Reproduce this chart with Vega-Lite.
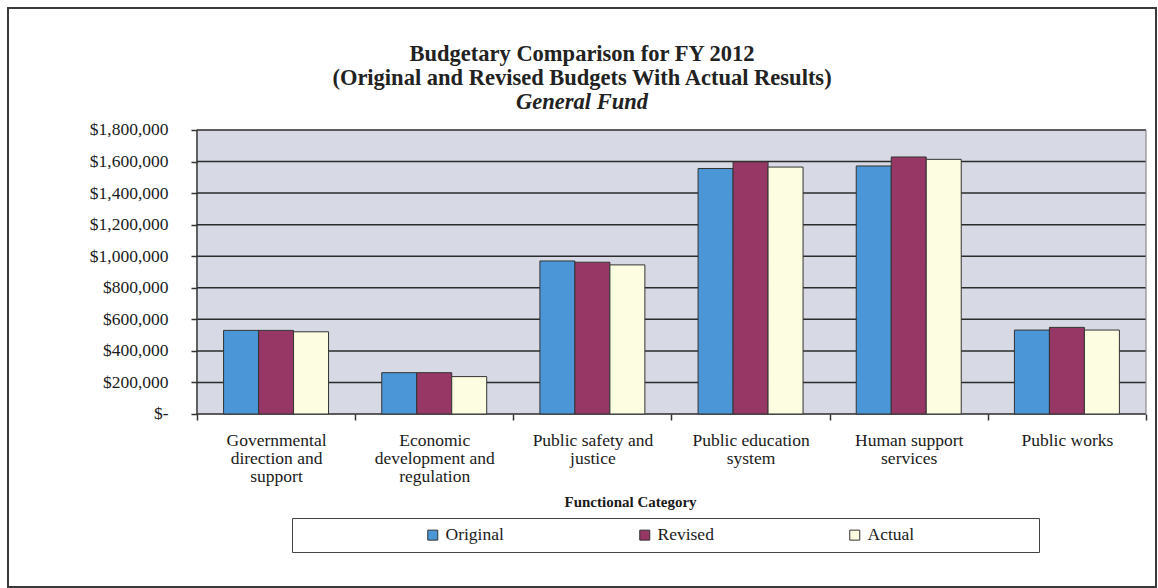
{
  "$schema": "https://vega.github.io/schema/vega-lite/v6.json",
  "width": 1148,
  "height": 579,
  "autosize": "none",
  "padding": {"left": 8, "top": 8, "right": 2, "bottom": 1},
  "background": "white",
  "config": {
    "view": {"stroke": "#3a3a3a", "strokeWidth": 2, "fill": "white"},
    "font": "Liberation Serif",
    "axis": {"labelFont": "Liberation Serif", "titleFont": "Liberation Serif"},
    "legend": {"labelFont": "Liberation Serif", "titleFont": "Liberation Serif"}
  },
  "title": {
    "text": ["Budgetary Comparison for FY 2012", "(Original and Revised Budgets With Actual Results)"],
    "subtitle": "General Fund",
    "anchor": "middle",
    "frame": "group",
    "font": "Liberation Serif",
    "fontSize": 22.5,
    "fontWeight": "bold",
    "color": "#222222",
    "lineHeight": 24,
    "subtitleFont": "Liberation Serif",
    "subtitleFontSize": 22.5,
    "subtitleFontStyle": "italic",
    "subtitleFontWeight": "bold",
    "subtitleColor": "#222222",
    "subtitlePadding": 1,
    "offset": -105
  },
  "datasets": {
    "budget": [
      {"category": "Governmental direction and support", "series": "Original", "value": 530000},
      {"category": "Governmental direction and support", "series": "Revised", "value": 530000},
      {"category": "Governmental direction and support", "series": "Actual", "value": 521000},
      {"category": "Economic development and regulation", "series": "Original", "value": 262000},
      {"category": "Economic development and regulation", "series": "Revised", "value": 262000},
      {"category": "Economic development and regulation", "series": "Actual", "value": 237000},
      {"category": "Public safety and justice", "series": "Original", "value": 970000},
      {"category": "Public safety and justice", "series": "Revised", "value": 962000},
      {"category": "Public safety and justice", "series": "Actual", "value": 945000},
      {"category": "Public education system", "series": "Original", "value": 1556000},
      {"category": "Public education system", "series": "Revised", "value": 1598000},
      {"category": "Public education system", "series": "Actual", "value": 1565000},
      {"category": "Human support services", "series": "Original", "value": 1572000},
      {"category": "Human support services", "series": "Revised", "value": 1629000},
      {"category": "Human support services", "series": "Actual", "value": 1614000},
      {"category": "Public works", "series": "Original", "value": 532000},
      {"category": "Public works", "series": "Revised", "value": 549000},
      {"category": "Public works", "series": "Actual", "value": 532000}
    ],
    "grid": [
      {"v": 0}, {"v": 200000}, {"v": 400000}, {"v": 600000}, {"v": 800000},
      {"v": 1000000}, {"v": 1200000}, {"v": 1400000}, {"v": 1600000}, {"v": 1800000}
    ],
    "plotarea": [{"part": "plot area"}]
  },
  "layer": [
    {
      "data": {"name": "budget"},
      "mark": {"type": "rect", "fill": "#d7dae4"},
      "encoding": {
        "x": {"field": "category", "type": "nominal", "sort": null, "title": "Functional Category",
              "scale": {"domain": ["Governmental direction and support", "Economic development and regulation", "Public safety and justice", "Public education system", "Human support services", "Public works"], "paddingInner": 0, "paddingOuter": 0.629, "align": 0.9497}},
        "y": {"datum": 0, "type": "quantitative", "title": null, "scale": {"domain": [-1096486, 2573232], "nice": false, "zero": false}},
        "y2": {"datum": 1800000}
      }
    },
    {
      "data": {"name": "grid"},
      "mark": {"type": "rule", "color": "#2b2b2b", "strokeWidth": 1.5},
      "encoding": {
        "x": {"datum": "Governmental direction and support", "type": "nominal", "bandPosition": 0, "title": "Functional Category",
              "scale": {"domain": ["Governmental direction and support", "Economic development and regulation", "Public safety and justice", "Public education system", "Human support services", "Public works"], "paddingInner": 0, "paddingOuter": 0.629, "align": 0.9497}},
        "x2": {"datum": "Public works", "bandPosition": 1},
        "y": {"field": "v", "type": "quantitative", "title": null, "scale": {"domain": [-1096486, 2573232], "nice": false, "zero": false}}
      }
    },
    {
      "data": {"name": "budget"},
      "mark": {"type": "bar", "stroke": "#333333", "strokeWidth": 1},
      "encoding": {
        "x": {"field": "category", "type": "nominal", "sort": null, "title": "Functional Category",
              "scale": {"domain": ["Governmental direction and support", "Economic development and regulation", "Public safety and justice", "Public education system", "Human support services", "Public works"], "paddingInner": 0, "paddingOuter": 0.629, "align": 0.9497},
              "axis": {
                "title": "Functional Category",
                "orient": "bottom",
                "offset": -173,
                "domain": false,
                "grid": false,
                "tickBand": "extent",
                "tickSize": 6,
                "tickColor": "#333333",
                "tickWidth": 1.5,
                "labelAngle": 0,
                "labelAlign": "center",
                "labelBaseline": "top",
                "labelPadding": 11,
                "labelFontSize": 17.5,
                "labelLineHeight": 18,
                "labelColor": "#1a1a1a",
                "labelOverlap": false,
                "labelBound": false,
                "labelExpr": "datum.label == 'Governmental direction and support' ? ['Governmental','direction and','support'] : datum.label == 'Economic development and regulation' ? ['Economic','development and','regulation'] : datum.label == 'Public safety and justice' ? ['Public safety and','justice'] : datum.label == 'Public education system' ? ['Public education','system'] : datum.label == 'Human support services' ? ['Human support','services'] : datum.label",
                "titleFontSize": 15,
                "titleFontWeight": "bold",
                "titleColor": "#1a1a1a",
                "titlePadding": 10,
                "titleX": 622,
                "zindex": 1
              }},
        "xOffset": {"field": "series", "type": "nominal", "sort": ["Original", "Revised", "Actual"], "scale": {"paddingInner": 0, "paddingOuter": 0.76}},
        "y": {"field": "value", "type": "quantitative", "title": null,
              "scale": {"domain": [-1096486, 2573232], "nice": false, "zero": false},
              "axis": {
                "title": null,
                "orient": "left",
                "offset": -189,
                "domain": false,
                "grid": false,
                "values": [0, 200000, 400000, 600000, 800000, 1000000, 1200000, 1400000, 1600000, 1800000],
                "tickSize": 6,
                "tickColor": "#333333",
                "tickWidth": 1.5,
                "labelPadding": 23,
                "labelFontSize": 17.5,
                "labelColor": "#1a1a1a",
                "labelExpr": "datum.value == 0 ? '$-' : '$' + format(datum.value, ',')",
                "zindex": 1
              }},
        "y2": {"datum": 0},
        "color": {"field": "series", "type": "nominal",
                  "scale": {"domain": ["Original", "Revised", "Actual"], "range": ["#4b96d6", "#973765", "#fdfde2"]},
                  "legend": {
                    "orient": "none",
                    "legendX": 284,
                    "legendY": 510,
                    "direction": "horizontal",
                    "columns": 3,
                    "title": " ",
                    "titleOrient": "right",
                    "titlePadding": 117,
                    "titleFontSize": 17,
                    "symbolType": "square",
                    "symbolSize": 100,
                    "symbolOffset": 124,
                    "symbolStrokeColor": "#333333",
                    "symbolStrokeWidth": 1,
                    "labelFontSize": 17.5,
                    "labelColor": "#1a1a1a",
                    "labelOffset": 4,
                    "columnPadding": 8,
                    "padding": 8,
                    "strokeColor": "#444444",
                    "fillColor": "white"
                  }}
      }
    },
    {
      "data": {"name": "plotarea"},
      "mark": {"type": "rule", "color": "#333333", "strokeWidth": 1.5},
      "encoding": {
        "x": {"datum": "Governmental direction and support", "type": "nominal", "bandPosition": 0, "title": "Functional Category",
              "scale": {"domain": ["Governmental direction and support", "Economic development and regulation", "Public safety and justice", "Public education system", "Human support services", "Public works"], "paddingInner": 0, "paddingOuter": 0.629, "align": 0.9497}},
        "y": {"datum": 0, "type": "quantitative", "title": null, "scale": {"domain": [-1096486, 2573232], "nice": false, "zero": false}},
        "y2": {"datum": 1800000}
      }
    },
    {
      "data": {"name": "plotarea"},
      "mark": {"type": "rule", "color": "#8a8a8a", "strokeWidth": 1.2},
      "encoding": {
        "x": {"datum": "Public works", "type": "nominal", "bandPosition": 1, "title": "Functional Category",
              "scale": {"domain": ["Governmental direction and support", "Economic development and regulation", "Public safety and justice", "Public education system", "Human support services", "Public works"], "paddingInner": 0, "paddingOuter": 0.629, "align": 0.9497}},
        "y": {"datum": 0, "type": "quantitative", "title": null, "scale": {"domain": [-1096486, 2573232], "nice": false, "zero": false}},
        "y2": {"datum": 1800000}
      }
    }
  ]
}
